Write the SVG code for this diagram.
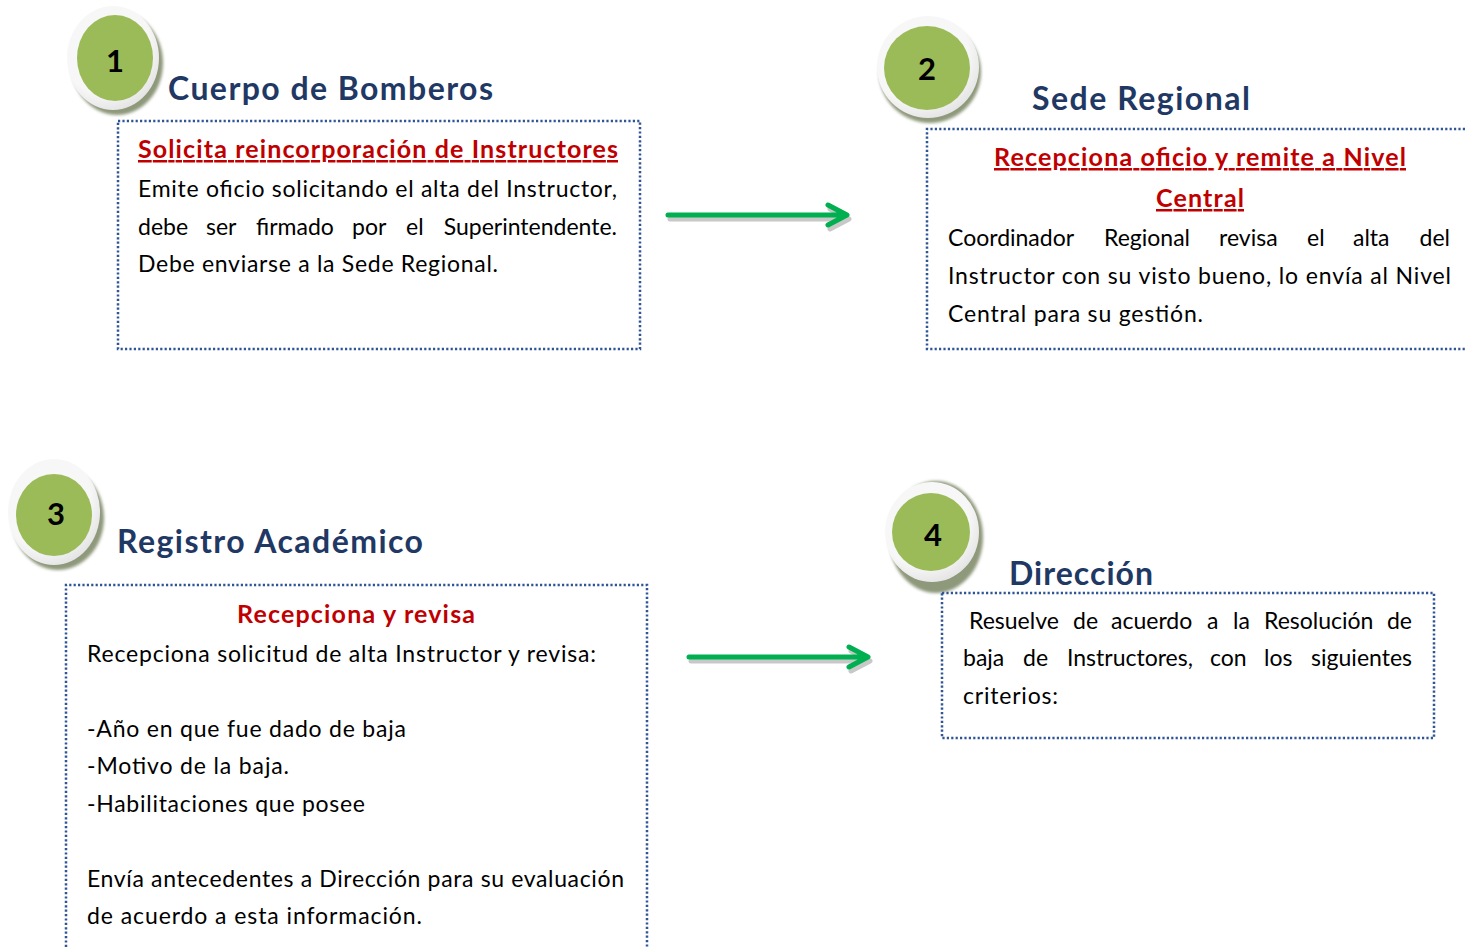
<svg xmlns="http://www.w3.org/2000/svg" width="1465" height="947" viewBox="0 0 1465 947">
<defs>
<style>
.title{font-family:Lato,"Liberation Sans",sans-serif;font-weight:bold;font-size:32px;fill:#1F3864}
.num{font-family:Lato,"Liberation Sans",sans-serif;font-weight:bold;font-size:31px;fill:#000;text-anchor:middle}
.body{font-family:Lato,"Liberation Sans",sans-serif;font-size:23px;fill:#000}
.head{font-family:Lato,"Liberation Sans",sans-serif;font-weight:bold;font-size:25px;fill:#C00000}
.box{fill:none;stroke:#2F5597;stroke-width:2.5;stroke-dasharray:2.2 2.2}
.ring{fill:url(#ringGrad)}
.green{fill:#9BBB59}
.shadow{fill:#8E987A;filter:url(#blur)}
.arrow{fill:none;stroke:#00B050;stroke-width:5;stroke-linecap:round;stroke-linejoin:round}
.arrowsh{fill:none;stroke:#C8C8C8;stroke-width:5;stroke-linecap:round;stroke-linejoin:round}
.end{text-anchor:end}
</style>
<radialGradient id="ringGrad" cx="0.4" cy="0.35" r="0.7">
<stop offset="0.7" stop-color="#F7F7F7"/>
<stop offset="1" stop-color="#E2E2E2"/>
</radialGradient>
<filter id="blur" x="-20%" y="-20%" width="140%" height="140%"><feGaussianBlur stdDeviation="1.5"/></filter>
</defs>
<rect width="1465" height="947" fill="#fff"/>

<g id="node1">
<ellipse class="shadow" cx="117" cy="63" rx="46" ry="52"/>
<ellipse class="ring" cx="113" cy="58" rx="46" ry="52"/>
<ellipse class="green" cx="115" cy="58" rx="38" ry="43"/>
<text class="num" x="115" y="72">1</text>
<text class="title" x="168" y="100" textLength="325">Cuerpo de Bomberos</text>
<rect class="box" x="118" y="121" width="522" height="228"/>
<text class="head" x="138" y="158" textLength="480" text-decoration="underline">Solicita reincorporación de Instructores</text>
<text class="body" x="138" y="197" textLength="479">Emite oficio solicitando el alta del Instructor,</text>
<text class="body" y="235"><tspan x="138">debe</tspan> <tspan x="206">ser</tspan> <tspan x="256">firmado</tspan> <tspan x="352">por</tspan> <tspan x="406">el</tspan> <tspan class="end" x="617">Superintendente.</tspan></text>
<text class="body" x="138" y="272" textLength="360">Debe enviarse a la Sede Regional.</text>
</g>

<g id="node2">
<ellipse class="shadow" cx="930" cy="72" rx="51" ry="51"/>
<ellipse class="ring" cx="928" cy="67" rx="51" ry="51"/>
<ellipse class="green" cx="927" cy="68" rx="43" ry="42"/>
<text class="num" x="927" y="80">2</text>
<text class="title" x="1032" y="110" textLength="218">Sede Regional</text>
<path class="box" d="M1465,129 H927 V349 H1465"/>
<text class="head" x="994" y="166" textLength="412" text-decoration="underline">Recepciona oficio y remite a Nivel</text>
<text class="head" x="1156" y="207" textLength="88" text-decoration="underline">Central</text>
<text class="body" y="246"><tspan x="948">Coordinador</tspan> <tspan x="1104">Regional</tspan> <tspan x="1219">revisa</tspan> <tspan x="1307">el</tspan> <tspan x="1353">alta</tspan> <tspan class="end" x="1450">del</tspan></text>
<text class="body" x="948" y="284" textLength="503">Instructor con su visto bueno, lo envía al Nivel</text>
<text class="body" x="948" y="322" textLength="255">Central para su gestión.</text>
</g>

<g id="node3">
<ellipse class="shadow" cx="58" cy="518" rx="46" ry="52"/>
<ellipse class="ring" cx="54" cy="512" rx="46" ry="53"/>
<ellipse class="green" cx="54" cy="515" rx="38" ry="41"/>
<text class="num" x="56" y="525">3</text>
<text class="title" x="117" y="553" textLength="306">Registro Académico</text>
<path class="box" d="M66,947 V585 H647 V947"/>
<text class="head" x="237" y="623" textLength="238">Recepciona y revisa</text>
<text class="body" x="87" y="662" textLength="509">Recepciona solicitud de alta Instructor y revisa:</text>
<text class="body" x="87" y="737" textLength="319">-Año en que fue dado de baja</text>
<text class="body" x="87" y="774" textLength="202">-Motivo de la baja.</text>
<text class="body" x="87" y="812" textLength="278">-Habilitaciones que posee</text>
<text class="body" x="87" y="887" textLength="537">Envía antecedentes a Dirección para su evaluación</text>
<text class="body" x="87" y="924" textLength="335">de acuerdo a esta información.</text>
</g>

<g id="node4">
<ellipse class="shadow" cx="936" cy="537" rx="47" ry="56"/>
<ellipse class="ring" cx="932" cy="532" rx="47" ry="50"/>
<ellipse class="green" cx="931" cy="532" rx="39" ry="39"/>
<text class="num" x="933" y="546">4</text>
<text class="title" x="1009" y="585" textLength="144">Dirección</text>
<rect class="box" x="942" y="593" width="492" height="145"/>
<text class="body" y="629"><tspan x="969">Resuelve</tspan> <tspan x="1073">de</tspan> <tspan x="1111">acuerdo</tspan> <tspan x="1207">a</tspan> <tspan x="1233">la</tspan> <tspan x="1264">Resolución</tspan> <tspan class="end" x="1412">de</tspan></text>
<text class="body" y="666"><tspan x="963">baja</tspan> <tspan x="1023">de</tspan> <tspan x="1067">Instructores,</tspan> <tspan x="1210">con</tspan> <tspan x="1264">los</tspan> <tspan class="end" x="1412">siguientes</tspan></text>
<text class="body" x="963" y="704" textLength="95">criterios:</text>
</g>

<g id="connectors">
<g transform="translate(2,4)">
<path class="arrowsh" d="M668,215 H845 M828,205 L847,215 L828,225"/>
<path class="arrowsh" d="M689,657 H866 M849,647 L868,657 L849,667"/>
</g>
<path class="arrow" d="M668,215 H845 M828,205 L847,215 L828,225"/>
<path class="arrow" d="M689,657 H866 M849,647 L868,657 L849,667"/>
</g>
</svg>
